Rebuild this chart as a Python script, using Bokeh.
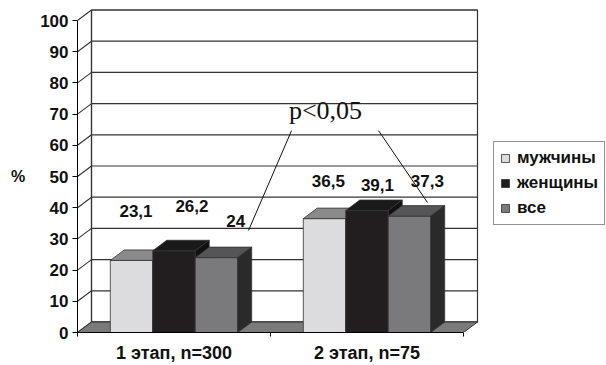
from bokeh.plotting import figure
from bokeh.models import Range1d, FixedTicker, Legend, LegendItem, Label
from bokeh.core.properties import value
from bokeh.embed import file_html
from bokeh.resources import INLINE

# ---------------- data ----------------
categories = ["1 этап, n=300", "2 этап, n=75"]
series_names = ["мужчины", "женщины", "все"]
men = [23.1, 36.5]
women = [26.2, 39.1]
everyone = [24.0, 37.3]
series_values = [men, women, everyone]
y_ticks = list(range(0, 101, 10))
y_axis_label = "%"
p_text = "p<0,05"

# ---------------- layout / style ----------------
FONT = "Liberation Sans"
front_colors = ["#dcdcdf", "#221e1f", "#7a7a7c"]
top_colors = ["#8a8a8a", "#1a1a1a", "#555557"]
side_colors = ["#9a9a9a", "#111111", "#2a2a2a"]
edge = "#333333"

PX_PER_CAT = 193.0
PX_PER_UNIT = 3.12
DX = 14 / PX_PER_CAT
DY = 10.5 / PX_PER_UNIT
GAP = 0.17
BW = 0.22

# value-label nudges (data units) relative to bar front centre / top
lab_dx = [[0.023, 0.02], [0.093, 0.054], [0.10, 0.093]]
lab_dy = [[15.7, 12.2], [14.5, 8.2], [11.6, 11.4]]

W, H = 606, 365
LEFT, BOTTOM = 77, 33
frame_h = H - BOTTOM
frame_w = W - LEFT
n = len(categories)

p = figure(width=W, height=H, output_backend="svg", toolbar_location=None,
           x_range=Range1d(0, frame_w / PX_PER_CAT),
           y_range=Range1d(0, frame_h / PX_PER_UNIT),
           min_border_left=LEFT, min_border_right=0,
           min_border_top=0, min_border_bottom=BOTTOM)
p.xgrid.visible = False
p.ygrid.visible = False
p.outline_line_color = None
p.background_fill_color = "white"
p.border_fill_color = "white"

ymax = y_ticks[-1]

# back wall
p.quad(left=[DX], right=[n + DX], bottom=[DY], top=[ymax + DY],
       fill_color="white", line_color=edge, line_width=1.2)
# back wall gridlines
p.segment(x0=[DX] * len(y_ticks), y0=[t + DY for t in y_ticks],
          x1=[n + DX] * len(y_ticks), y1=[t + DY for t in y_ticks],
          line_color=edge, line_width=1.2)
# left wall diagonals
p.segment(x0=[0] * len(y_ticks), y0=y_ticks,
          x1=[DX] * len(y_ticks), y1=[t + DY for t in y_ticks],
          line_color=edge, line_width=1.1)
p.segment(x0=[DX], y0=[DY], x1=[DX], y1=[ymax + DY], line_color=edge, line_width=1.2)
# floor
p.patch(x=[0, n, n + DX, DX], y=[0, 0, DY, DY], fill_color="#7a7a7a",
        line_color=edge, line_width=1)

# bars
front_renderers = []
for i, vals in enumerate(series_values):
    lefts = [c + GAP + i * BW for c in range(n)]
    rights = [l + BW for l in lefts]
    r = p.quad(left=lefts, right=rights, bottom=[0] * n, top=vals,
               fill_color=front_colors[i], line_color=edge, line_width=0.8)
    front_renderers.append(r)
    p.patches(xs=[[l, rr, rr + DX, l + DX] for l, rr in zip(lefts, rights)],
              ys=[[v, v, v + DY, v + DY] for v in vals],
              fill_color=top_colors[i], line_color=edge, line_width=0.8)
    p.patches(xs=[[rr, rr + DX, rr + DX, rr] for rr in rights],
              ys=[[0, DY, v + DY, v] for v in vals],
              fill_color=side_colors[i], line_color=edge, line_width=0.8)

# value labels
lx, ly, lt = [], [], []
for i, vals in enumerate(series_values):
    for c, v in enumerate(vals):
        lx.append(c + GAP + i * BW + BW / 2 + lab_dx[i][c])
        ly.append(v + lab_dy[i][c])
        lt.append(f"{v:g}".replace(".", ","))
p.text(x=lx, y=ly, text=lt, text_font=value(FONT), text_font_style="bold",
       text_font_size="17px", text_align="center", text_baseline="middle",
       text_color="#111111")

# significance annotation
p.add_layout(Label(x=1.285, y=71.2, text=p_text, text_font="Liberation Serif",
                   text_font_size="26px", text_align="center",
                   text_baseline="alphabetic", text_color="#111111"))
p.segment(x0=[1.109, 1.560], y0=[64.7, 64.7], x1=[0.886, 1.813], y1=[32.7, 41.7],
          line_color="#111111", line_width=1)

# axes
xa = p.xaxis[0]
xa.ticker = FixedTicker(ticks=[c + 0.5 for c in range(n)], minor_ticks=list(range(n + 1)))
xa.major_label_overrides = {c + 0.5: cat for c, cat in enumerate(categories)}
xa.bounds = (0, n)
xa.major_tick_out = 0
xa.major_tick_in = 0
xa.minor_tick_out = 4
xa.minor_tick_in = 0
xa.minor_tick_line_color = "black"
xa.axis_line_color = "black"
xa.major_label_standoff = 6
xa.major_label_text_font = FONT
xa.major_label_text_font_style = "bold"
xa.major_label_text_font_size = "18px"
xa.major_label_text_color = "#111111"

ya = p.yaxis[0]
ya.ticker = FixedTicker(ticks=y_ticks, minor_ticks=[])
ya.bounds = (0, ymax)
ya.major_tick_out = 5
ya.major_tick_in = 0
ya.minor_tick_out = 0
ya.minor_tick_in = 0
ya.axis_line_color = "black"
ya.major_tick_line_color = "black"
ya.major_label_standoff = 4
ya.major_label_text_font = FONT
ya.major_label_text_font_style = "bold"
ya.major_label_text_font_size = "17px"
ya.major_label_text_color = "#111111"
# a leading blank line lowers the "%" to the middle of the 0-100 scale
ya.axis_label = "\n" + y_axis_label
ya.axis_label_orientation = "horizontal"
ya.axis_label_standoff = 12
ya.axis_label_text_font = FONT
ya.axis_label_text_font_style = "bold"
ya.axis_label_text_font_size = "16px"
ya.axis_label_text_color = "#111111"

# legend
legend = Legend(items=[LegendItem(label=nm, renderers=[front_renderers[i]])
                       for i, nm in enumerate(series_names)],
                location=(416, 107))
legend.glyph_width = 10
legend.glyph_height = 10
legend.label_height = 20
legend.label_standoff = 7
legend.spacing = 5
legend.padding = 6
legend.margin = 0
legend.label_text_font = FONT
legend.label_text_font_style = "bold"
legend.label_text_font_size = "17px"
legend.label_text_color = "#111111"
legend.border_line_color = "#222222"
legend.border_line_width = 1
legend.background_fill_color = "white"
legend.background_fill_alpha = 1
p.add_layout(legend)

open("out.html", "w").write(file_html(p, INLINE))
